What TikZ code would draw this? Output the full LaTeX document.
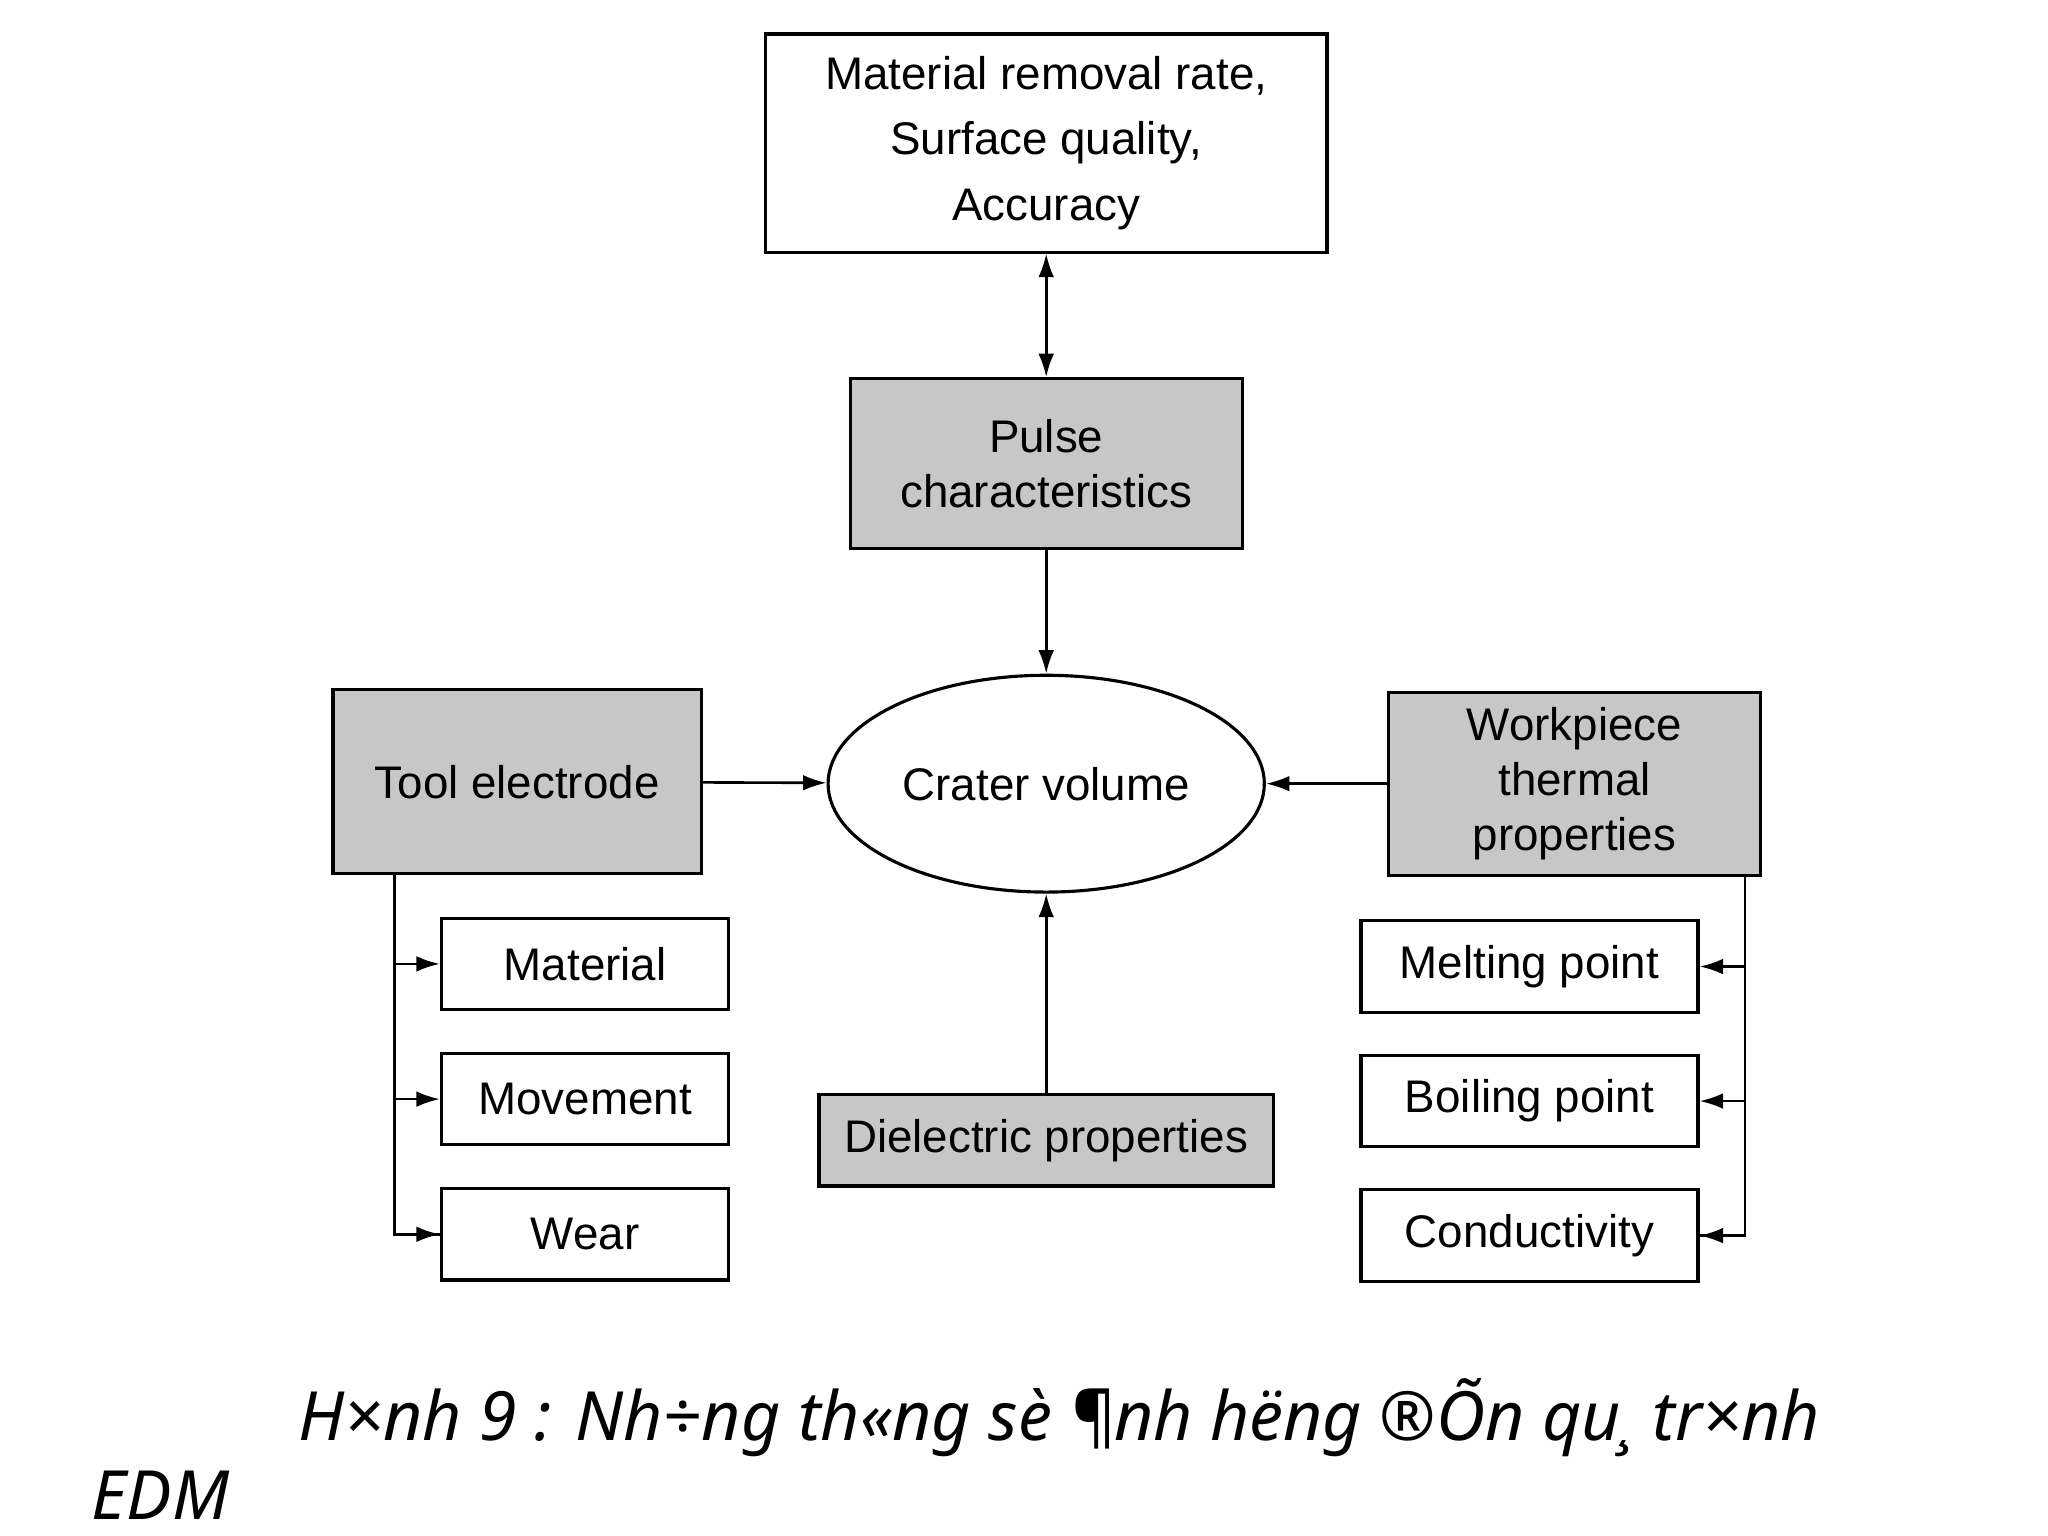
\documentclass[tikz,border=0pt]{standalone}
\usepackage{fontspec}
\setmainfont{Liberation Sans}
\newfontfamily\capfont{Noto Sans}
\usetikzlibrary{shapes.geometric,arrows.meta}
\begin{document}
\begin{tikzpicture}[x=0.5pt,y=-0.5pt,
  bx/.style={draw,line width=1.2pt,inner sep=0pt,align=center,font=\fontsize{17.5}{25}\selectfont},
  gr/.style={bx,fill=black!22},
  arr/.style={line width=1pt,-{Latex[length=9pt,width=6pt]}}]
\useasboundingbox (0,0) rectangle (1568,1176);
\node[bx,minimum width=430*0.5pt,minimum height=167*0.5pt] (top) at (801,109.5) {Material removal rate,\\Surface quality,\\Accuracy};
\node[gr,minimum width=300*0.5pt,minimum height=130*0.5pt,font=\fontsize{17.5}{21}\selectfont] (pulse) at (801,355) {Pulse\\characteristics};
\node[draw,ellipse,line width=1.2pt,minimum width=334*0.5pt,minimum height=166*0.5pt,font=\fontsize{17.5}{20}\selectfont] (crater) at (801,600) {Crater volume};
\node[gr,minimum width=282*0.5pt,minimum height=141*0.5pt] (tool) at (396,598.5) {Tool electrode};
\node[gr,minimum width=285*0.5pt,minimum height=140*0.5pt,font=\fontsize{17.5}{21}\selectfont] (work) at (1205.5,600) {Workpiece\\thermal\\properties};
\node[gr,minimum width=348*0.5pt,minimum height=70*0.5pt] (diel) at (801,873) {Dielectric properties};
\foreach \n/\t/\y in {mat/Material/738,mov/Movement/841.5,wear/Wear/945}
  \node[bx,minimum width=220*0.5pt,minimum height=70*0.5pt] (\n) at (448,\y) {\t};
\foreach \n/\t/\y in {melt/Melting point/740,boil/Boiling point/843,cond/Conductivity/946}
  \node[bx,minimum width=258*0.5pt,minimum height=70*0.5pt] (\n) at (1171,\y) {\t};
\draw[line width=1pt,{Latex[length=9pt,width=6pt]}-{Latex[length=9pt,width=6pt]}] (top) -- (pulse);
\draw[arr] (pulse) -- (crater);
\draw[arr] (tool) -- (crater);
\draw[arr] (work) -- (crater);
\draw[arr] (diel) -- (crater);
\coordinate (lt) at (302,669);
\coordinate (rt) at (1336,670);
\draw[line width=1pt] (lt) |- (wear.west);
\foreach \n in {mat,mov,wear} \draw[arr] (lt|-\n.west) -- (\n.west);
\draw[line width=1pt] (rt) |- (cond.east);
\foreach \n in {melt,boil,cond} \draw[arr] (rt|-\n.east) -- (\n.east);
\node[anchor=base west,inner sep=0pt,font=\capfont\itshape\fontsize{26}{30}\selectfont] (cap1) at (228,1103) {H×nh 9 : Nh÷ng th«ng sè ¶nh hëng ®Õn qu¸ tr×nh};
\node[anchor=base west,inner sep=0pt,font=\capfont\itshape\fontsize{26}{30}\selectfont] (cap2) at (70,1163) {EDM};
\end{tikzpicture}
\end{document}
